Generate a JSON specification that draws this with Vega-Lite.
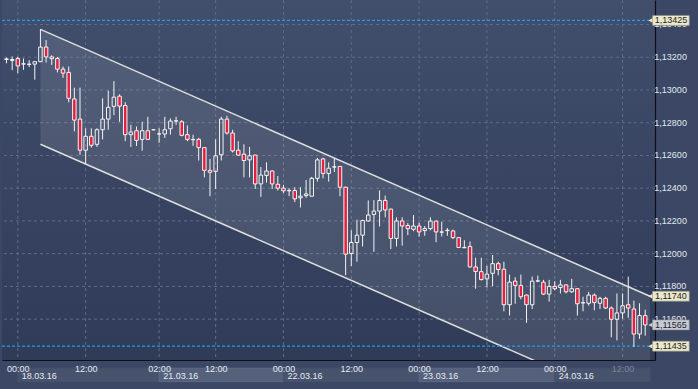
{
  "$schema": "https://vega.github.io/schema/vega-lite/v6.json",
  "width": 653,
  "height": 360,
  "autosize": {"type": "none"},
  "padding": {"left": 2, "top": 0, "right": 43, "bottom": 29},
  "background": "#3b4764",
  "config": {
    "font": "Liberation Sans",
    "view": {"stroke": null, "fill": {"gradient": "linear", "x1": 0, "y1": 0, "x2": 0, "y2": 1, "stops": [{"offset": 0, "color": "#414e6c"}, {"offset": 1, "color": "#2f3b57"}]}}
  },
  "datasets": {
    "candles": [
      {"i":-2,"o":1.13186,"h":1.13198,"l":1.13163,"c":1.13190},
      {"i":-1,"o":1.13180,"h":1.13204,"l":1.13121,"c":1.13186},
      {"i":0,"o":1.13192,"h":1.13202,"l":1.13103,"c":1.13147},
      {"i":1,"o":1.13158,"h":1.13192,"l":1.13123,"c":1.13160},
      {"i":2,"o":1.13158,"h":1.13182,"l":1.13140,"c":1.13156},
      {"i":3,"o":1.13158,"h":1.13175,"l":1.13063,"c":1.13173},
      {"i":4,"o":1.13173,"h":1.13371,"l":1.13170,"c":1.13262},
      {"i":5,"o":1.13262,"h":1.13305,"l":1.13167,"c":1.13202},
      {"i":6,"o":1.13202,"h":1.13212,"l":1.13153,"c":1.13191},
      {"i":7,"o":1.13192,"h":1.13202,"l":1.13107,"c":1.13127},
      {"i":8,"o":1.13127,"h":1.13143,"l":1.13074,"c":1.13103},
      {"i":9,"o":1.13107,"h":1.13143,"l":1.12925,"c":1.12949},
      {"i":10,"o":1.12945,"h":1.13014,"l":1.12747,"c":1.12816},
      {"i":11,"o":1.12822,"h":1.13014,"l":1.12604,"c":1.12632},
      {"i":12,"o":1.12632,"h":1.12766,"l":1.12549,"c":1.12717},
      {"i":13,"o":1.12717,"h":1.12766,"l":1.12648,"c":1.12662},
      {"i":14,"o":1.12668,"h":1.12766,"l":1.12652,"c":1.12757},
      {"i":15,"o":1.12757,"h":1.12949,"l":1.12698,"c":1.12822},
      {"i":16,"o":1.12822,"h":1.12995,"l":1.12757,"c":1.12894},
      {"i":17,"o":1.12900,"h":1.13054,"l":1.12846,"c":1.12956},
      {"i":18,"o":1.12962,"h":1.12974,"l":1.12806,"c":1.12901},
      {"i":19,"o":1.12905,"h":1.12925,"l":1.12687,"c":1.12727},
      {"i":20,"o":1.12727,"h":1.12787,"l":1.12652,"c":1.12743},
      {"i":21,"o":1.12751,"h":1.12777,"l":1.12658,"c":1.12692},
      {"i":22,"o":1.12698,"h":1.12806,"l":1.12629,"c":1.12751},
      {"i":23,"o":1.12751,"h":1.12836,"l":1.12698,"c":1.12698},
      {"i":24,"o":1.12757,"h":1.12760,"l":1.12754,"c":1.12757},
      {"i":25,"o":1.12731,"h":1.12766,"l":1.12677,"c":1.12731},
      {"i":26,"o":1.12731,"h":1.12836,"l":1.12707,"c":1.12757},
      {"i":27,"o":1.12763,"h":1.12826,"l":1.12727,"c":1.12810},
      {"i":28,"o":1.12810,"h":1.12836,"l":1.12787,"c":1.12812},
      {"i":29,"o":1.12806,"h":1.12816,"l":1.12717,"c":1.12723},
      {"i":30,"o":1.12727,"h":1.12783,"l":1.12687,"c":1.12698},
      {"i":31,"o":1.12698,"h":1.12727,"l":1.12658,"c":1.12696},
      {"i":32,"o":1.12698,"h":1.12707,"l":1.12569,"c":1.12648},
      {"i":33,"o":1.12648,"h":1.12650,"l":1.12466,"c":1.12509},
      {"i":34,"o":1.12509,"h":1.12579,"l":1.12351,"c":1.12497},
      {"i":35,"o":1.12503,"h":1.12698,"l":1.12395,"c":1.12598},
      {"i":36,"o":1.12604,"h":1.12836,"l":1.12569,"c":1.12822},
      {"i":37,"o":1.12822,"h":1.12842,"l":1.12727,"c":1.12737},
      {"i":38,"o":1.12737,"h":1.12757,"l":1.12618,"c":1.12628},
      {"i":39,"o":1.12632,"h":1.12687,"l":1.12598,"c":1.12602},
      {"i":40,"o":1.12608,"h":1.12668,"l":1.12466,"c":1.12569},
      {"i":41,"o":1.12573,"h":1.12652,"l":1.12466,"c":1.12598},
      {"i":42,"o":1.12602,"h":1.12604,"l":1.12395,"c":1.12426},
      {"i":43,"o":1.12426,"h":1.12529,"l":1.12347,"c":1.12480},
      {"i":44,"o":1.12478,"h":1.12558,"l":1.12434,"c":1.12505},
      {"i":45,"o":1.12505,"h":1.12509,"l":1.12395,"c":1.12426},
      {"i":46,"o":1.12424,"h":1.12474,"l":1.12386,"c":1.12400},
      {"i":47,"o":1.12400,"h":1.12420,"l":1.12371,"c":1.12384},
      {"i":48,"o":1.12386,"h":1.12400,"l":1.12351,"c":1.12384},
      {"i":49,"o":1.12386,"h":1.12406,"l":1.12315,"c":1.12335},
      {"i":50,"o":1.12341,"h":1.12406,"l":1.12282,"c":1.12351},
      {"i":51,"o":1.12355,"h":1.12450,"l":1.12341,"c":1.12365},
      {"i":52,"o":1.12351,"h":1.12469,"l":1.12349,"c":1.12460},
      {"i":53,"o":1.12460,"h":1.12585,"l":1.12440,"c":1.12573},
      {"i":54,"o":1.12579,"h":1.12585,"l":1.12460,"c":1.12490},
      {"i":55,"o":1.12490,"h":1.12558,"l":1.12440,"c":1.12522},
      {"i":56,"o":1.12529,"h":1.12585,"l":1.12499,"c":1.12531},
      {"i":57,"o":1.12533,"h":1.12536,"l":1.12351,"c":1.12406},
      {"i":58,"o":1.12406,"h":1.12408,"l":1.11868,"c":1.11997},
      {"i":59,"o":1.12001,"h":1.12143,"l":1.11925,"c":1.12068},
      {"i":60,"o":1.12068,"h":1.12208,"l":1.11951,"c":1.12113},
      {"i":61,"o":1.12113,"h":1.12208,"l":1.12044,"c":1.12202},
      {"i":62,"o":1.12200,"h":1.12325,"l":1.12195,"c":1.12236},
      {"i":63,"o":1.12240,"h":1.12327,"l":1.12011,"c":1.12260},
      {"i":64,"o":1.12260,"h":1.12386,"l":1.12166,"c":1.12325},
      {"i":65,"o":1.12325,"h":1.12355,"l":1.12222,"c":1.12267},
      {"i":66,"o":1.12272,"h":1.12275,"l":1.12028,"c":1.12093},
      {"i":67,"o":1.12093,"h":1.12222,"l":1.12044,"c":1.12200},
      {"i":68,"o":1.12200,"h":1.12222,"l":1.12049,"c":1.12169},
      {"i":69,"o":1.12172,"h":1.12187,"l":1.12113,"c":1.12153},
      {"i":70,"o":1.12149,"h":1.12236,"l":1.12137,"c":1.12169},
      {"i":71,"o":1.12169,"h":1.12189,"l":1.12104,"c":1.12133},
      {"i":72,"o":1.12141,"h":1.12169,"l":1.12109,"c":1.12153},
      {"i":73,"o":1.12153,"h":1.12222,"l":1.12143,"c":1.12199},
      {"i":74,"o":1.12199,"h":1.12201,"l":1.12070,"c":1.12133},
      {"i":75,"o":1.12133,"h":1.12195,"l":1.12105,"c":1.12131},
      {"i":76,"o":1.12143,"h":1.12157,"l":1.12109,"c":1.12141},
      {"i":77,"o":1.12139,"h":1.12147,"l":1.12089,"c":1.12098},
      {"i":78,"o":1.12098,"h":1.12100,"l":1.12034,"c":1.12038},
      {"i":79,"o":1.12038,"h":1.12082,"l":1.12034,"c":1.12036},
      {"i":80,"o":1.12044,"h":1.12074,"l":1.11916,"c":1.11919},
      {"i":81,"o":1.11919,"h":1.11975,"l":1.11786,"c":1.11891},
      {"i":82,"o":1.11890,"h":1.11975,"l":1.11836,"c":1.11842},
      {"i":83,"o":1.11846,"h":1.11925,"l":1.11793,"c":1.11875},
      {"i":84,"o":1.11880,"h":1.11992,"l":1.11802,"c":1.11939},
      {"i":85,"o":1.11939,"h":1.11951,"l":1.11868,"c":1.11903},
      {"i":86,"o":1.11905,"h":1.11951,"l":1.11648,"c":1.11688},
      {"i":87,"o":1.11688,"h":1.11872,"l":1.11622,"c":1.11826},
      {"i":88,"o":1.11832,"h":1.11856,"l":1.11694,"c":1.11806},
      {"i":89,"o":1.11806,"h":1.11872,"l":1.11721,"c":1.11737},
      {"i":90,"o":1.11747,"h":1.11750,"l":1.11578,"c":1.11688},
      {"i":91,"o":1.11688,"h":1.11860,"l":1.11662,"c":1.11832},
      {"i":92,"o":1.11832,"h":1.11866,"l":1.11826,"c":1.11834},
      {"i":93,"o":1.11826,"h":1.11840,"l":1.11747,"c":1.11753},
      {"i":94,"o":1.11753,"h":1.11840,"l":1.11707,"c":1.11800},
      {"i":95,"o":1.11800,"h":1.11832,"l":1.11777,"c":1.11786},
      {"i":96,"o":1.11793,"h":1.11840,"l":1.11757,"c":1.11809},
      {"i":97,"o":1.11809,"h":1.11813,"l":1.11757,"c":1.11767},
      {"i":98,"o":1.11767,"h":1.11846,"l":1.11761,"c":1.11786},
      {"i":99,"o":1.11786,"h":1.11790,"l":1.11622,"c":1.11694},
      {"i":100,"o":1.11701,"h":1.11737,"l":1.11648,"c":1.11699},
      {"i":101,"o":1.11697,"h":1.11767,"l":1.11682,"c":1.11747},
      {"i":102,"o":1.11747,"h":1.11757,"l":1.11654,"c":1.11701},
      {"i":103,"o":1.11697,"h":1.11737,"l":1.11662,"c":1.11727},
      {"i":104,"o":1.11727,"h":1.11737,"l":1.11662,"c":1.11668},
      {"i":105,"o":1.11668,"h":1.11678,"l":1.11489,"c":1.11599},
      {"i":106,"o":1.11599,"h":1.11757,"l":1.11470,"c":1.11638},
      {"i":107,"o":1.11638,"h":1.11757,"l":1.11602,"c":1.11682},
      {"i":108,"o":1.11688,"h":1.11860,"l":1.11608,"c":1.11668},
      {"i":109,"o":1.11662,"h":1.11713,"l":1.11430,"c":1.11509},
      {"i":110,"o":1.11509,"h":1.11697,"l":1.11480,"c":1.11622},
      {"i":111,"o":1.11622,"h":1.11658,"l":1.11499,"c":1.11565}
    ],
    "channel": [
      {"i": 4, "u": 1.13370, "lo": 1.12668},
      {"i": 111.85, "u": 1.11740, "lo": 1.11038}
    ],
    "ygrid": [
      {"p":1.116,"label":"1,11600"},{"p":1.118,"label":"1,11800"},{"p":1.120,"label":"1,12000"},
      {"p":1.122,"label":"1,12200"},{"p":1.124,"label":"1,12400"},{"p":1.126,"label":"1,12600"},
      {"p":1.128,"label":"1,12800"},{"p":1.130,"label":"1,13000"},{"p":1.132,"label":"1,13200"},
      {"p":1.134,"label":"1,13400"}
    ],
    "xgrid": [{"i":0},{"i":12},{"i":25},{"i":35},{"i":47},{"i":59},{"i":71},{"i":83},{"i":95},{"i":107}],
    "hl": [{"p": 1.13425}, {"p": 1.11435}],
    "boxes": [
      {"p": 1.13425, "label": "1,13425", "kind": "a"},
      {"p": 1.11740, "label": "1,11740", "kind": "a"},
      {"p": 1.11565, "label": "1,11565", "kind": "b"},
      {"p": 1.11435, "label": "1,11435", "kind": "a"}
    ],
    "days": [
      {"s": 0, "e": 25, "d": "18.03.16", "alt": 0},
      {"s": 25, "e": 47, "d": "21.03.16", "alt": 1},
      {"s": 47, "e": 71, "d": "22.03.16", "alt": 0},
      {"s": 71, "e": 95, "d": "23.03.16", "alt": 1},
      {"s": 95, "e": 111.85, "d": "24.03.16", "alt": 0}
    ]
  },
  "layer": [
    {
      "data": {"name": "ygrid"},
      "mark": {"type": "rule", "color": "#5f6c88", "strokeDash": [3, 3], "strokeWidth": 1},
      "encoding": {
        "y": {"field": "p", "type": "quantitative",
          "scale": {"domain": [1.11381, 1.13519], "nice": false, "zero": false},
          "axis": {"orient": "right", "title": null, "grid": false, "ticks": false, "labels": false,
            "domain": true, "domainColor": "#0d0f14", "domainWidth": 1.2, "zindex": 0}
        }
      }
    },
    {
      "data": {"name": "xgrid"},
      "mark": {"type": "rule", "color": "#5f6c88", "strokeDash": [3, 3], "strokeWidth": 1},
      "encoding": {
        "x": {"field": "i", "type": "quantitative",
          "scale": {"domain": [-1.916, 111.85], "nice": false, "zero": false},
          "axis": {"orient": "bottom", "title": null, "grid": false, "ticks": false, "tickSize": 0,
            "values": [0, 12, 25, 35, 47, 59, 71, 83, 95, 107],
            "labelExpr": "datum.value == 25 ? '02:00' : ((datum.value == 0 || datum.value == 47 || datum.value == 71 || datum.value == 95) ? '00:00' : '12:00')",
            "labelFontSize": 9, "labelPadding": 4, "labelBaseline": "top", "labelAlign": "center",
            "labelColor": {"condition": {"test": "datum.value > 100", "value": "#7c8397"}, "value": "#e6ebf3"},
            "domain": true, "domainColor": "#0d0f14", "domainWidth": 1.2,
            "labelOverlap": false, "labelFlush": false, "labelBound": false, "zindex": 1}
        }
      }
    },
    {
      "data": {"name": "ygrid"},
      "mark": {"type": "text", "align": "left", "baseline": "middle", "fontSize": 9, "color": "#e2e8f1"},
      "encoding": {
        "x": {"datum": 112.62, "type": "quantitative"},
        "y": {"field": "p", "type": "quantitative"},
        "text": {"field": "label"}
      }
    },
    {
      "data": {"name": "channel"},
      "mark": {"type": "area", "color": "#ffffff", "opacity": 0.1, "clip": true},
      "encoding": {
        "x": {"field": "i", "type": "quantitative"},
        "y": {"field": "u", "type": "quantitative"},
        "y2": {"field": "lo"}
      }
    },
    {
      "data": {"name": "channel"},
      "mark": {"type": "line", "color": "#dedede", "strokeWidth": 1.5, "clip": true},
      "encoding": {
        "x": {"field": "i", "type": "quantitative"},
        "y": {"field": "u", "type": "quantitative"}
      }
    },
    {
      "data": {"name": "channel"},
      "mark": {"type": "line", "color": "#dedede", "strokeWidth": 1.5, "clip": true},
      "encoding": {
        "x": {"field": "i", "type": "quantitative"},
        "y": {"field": "lo", "type": "quantitative"}
      }
    },
    {
      "data": {"name": "hl"},
      "mark": {"type": "rule", "color": "#1b9fe6", "strokeDash": [3, 2], "strokeWidth": 1.4},
      "encoding": {"y": {"field": "p", "type": "quantitative"}}
    },
    {
      "data": {"name": "candles"},
      "transform": [
        {"fold": ["o", "c"], "as": ["k", "v"]},
        {"aggregate": [{"op": "max", "field": "v", "as": "top"}, {"op": "min", "field": "v", "as": "bot"}], "groupby": ["i", "h", "l"]}
      ],
      "layer": [
        {
          "mark": {"type": "rule", "color": "#f4f4f4", "strokeWidth": 1, "clip": true},
          "encoding": {
            "x": {"field": "i", "type": "quantitative"},
            "y": {"field": "h", "type": "quantitative"},
            "y2": {"field": "top"}
          }
        },
        {
          "mark": {"type": "rule", "color": "#f4f4f4", "strokeWidth": 1, "clip": true},
          "encoding": {
            "x": {"field": "i", "type": "quantitative"},
            "y": {"field": "bot", "type": "quantitative"},
            "y2": {"field": "l"}
          }
        }
      ]
    },
    {
      "data": {"name": "candles"},
      "mark": {"type": "bar", "width": 3.5, "stroke": "#f4f4f4", "strokeWidth": 1, "clip": true},
      "encoding": {
        "x": {"field": "i", "type": "quantitative"},
        "y": {"field": "o", "type": "quantitative"},
        "y2": {"field": "c"},
        "fill": {"condition": {"test": "datum.c < datum.o", "value": "#e3203f"}, "value": "transparent"}
      }
    },
    {
      "mark": {"type": "rect", "color": "#47526d"},
      "encoding": {
        "x": {"datum": -1.916, "type": "quantitative"},
        "x2": {"datum": 119.4},
        "y": {"datum": 1.11381, "type": "quantitative"},
        "y2": {"datum": 1.11200}
      }
    },
    {
      "data": {"name": "days"},
      "mark": {"type": "rect", "strokeWidth": 1},
      "encoding": {
        "x": {"field": "s", "type": "quantitative"},
        "x2": {"field": "e"},
        "y": {"datum": 1.11300, "type": "quantitative"},
        "y2": {"datum": 1.11218},
        "fill": {"condition": {"test": "datum.alt == 1", "value": "#55607b"}, "value": "#47526d"},
        "stroke": {"condition": {"test": "datum.alt == 1", "value": "#5e6984"}, "value": "#47526d"}
      }
    },
    {
      "data": {"name": "days"},
      "mark": {"type": "text", "align": "left", "baseline": "middle", "dx": 4, "fontSize": 9, "color": "#e6ebf3"},
      "encoding": {
        "x": {"field": "s", "type": "quantitative"},
        "y": {"datum": 1.11252, "type": "quantitative"},
        "text": {"field": "d"}
      }
    },
    {
      "mark": {"type": "rect", "color": "#1a253d", "opacity": 0.6},
      "encoding": {
        "x": {"datum": 98.8, "type": "quantitative"},
        "x2": {"datum": 111.85},
        "y": {"datum": 1.11381, "type": "quantitative"},
        "y2": {"datum": 1.11200}
      }
    },
    {
      "mark": {"type": "rule", "color": "#0d0f14", "strokeWidth": 1.2},
      "encoding": {
        "x": {"datum": 111.85, "type": "quantitative"},
        "y": {"datum": 1.11381, "type": "quantitative"},
        "y2": {"datum": 1.11200}
      }
    },
    {
      "data": {"name": "boxes"},
      "mark": {"type": "point", "shape": "triangle-left", "size": 40, "filled": true, "opacity": 1},
      "encoding": {
        "x": {"datum": 112.05, "type": "quantitative"},
        "y": {"field": "p", "type": "quantitative"},
        "color": {"condition": {"test": "datum.kind == 'b'", "value": "#c6cbd6"}, "value": "#ece8cb"}
      }
    },
    {
      "data": {"name": "boxes"},
      "mark": {"type": "bar", "height": 10, "stroke": "#8d8c80", "strokeWidth": 0.6},
      "encoding": {
        "x": {"datum": 112.3, "type": "quantitative"},
        "x2": {"datum": 118.8},
        "y": {"field": "p", "type": "quantitative"},
        "fill": {"condition": {"test": "datum.kind == 'b'", "value": "#c6cbd6"}, "value": "#ece8cb"}
      }
    },
    {
      "data": {"name": "boxes"},
      "mark": {"type": "text", "align": "center", "baseline": "middle", "fontSize": 9, "color": "#1c1e24"},
      "encoding": {
        "x": {"datum": 115.55, "type": "quantitative"},
        "y": {"field": "p", "type": "quantitative"},
        "text": {"field": "label"}
      }
    },
    {
      "mark": {"type": "text", "align": "center", "baseline": "middle", "fontSize": 9, "color": "#eef2f8"},
      "encoding": {
        "x": {"datum": 115.7, "type": "quantitative"},
        "y": {"datum": 1.11336, "type": "quantitative"},
        "text": {"value": "1001"}
      }
    },
    {
      "mark": {"type": "rule", "color": "#7d869c", "strokeWidth": 1},
      "encoding": {
        "x": {"datum": 113.4, "type": "quantitative"},
        "x2": {"datum": 117.95},
        "y": {"datum": 1.11298, "type": "quantitative"}
      }
    },
    {
      "mark": {"type": "text", "align": "center", "baseline": "middle", "fontSize": 9, "color": "#eef2f8"},
      "encoding": {
        "x": {"datum": 115.7, "type": "quantitative"},
        "y": {"datum": 1.11256, "type": "quantitative"},
        "text": {"value": ">114<"}
      }
    },
    {
      "mark": {"type": "text", "align": "left", "baseline": "middle", "fontSize": 9, "color": "#eef2f8"},
      "encoding": {
        "x": {"datum": -1.48, "type": "quantitative"},
        "y": {"datum": 1.13474, "type": "quantitative"},
        "text": {"value": "EUR/USD(JQ) 1H High = 1,1337 Low = 1,1143"}
      }
    }
  ]
}
